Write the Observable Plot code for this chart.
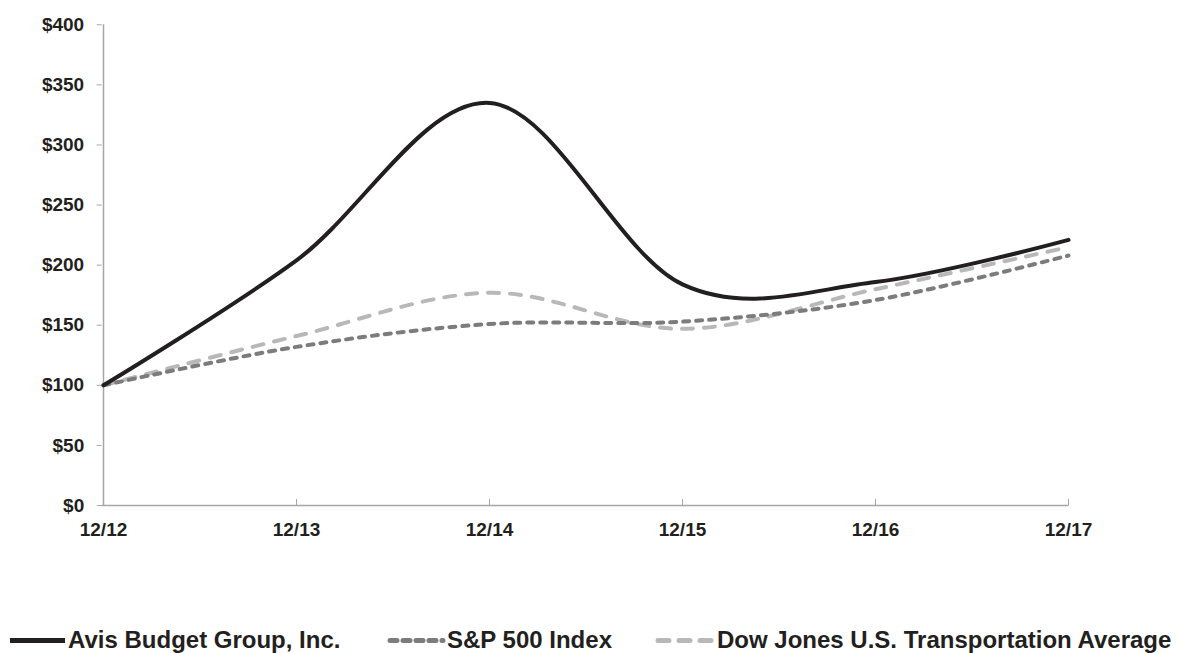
<!DOCTYPE html>
<html>
<head>
<meta charset="utf-8">
<script src="https://cdn.jsdelivr.net/npm/d3@7"></script>
<script src="https://cdn.jsdelivr.net/npm/@observablehq/plot@0.6"></script>
<style>
  html, body { margin: 0; padding: 0; background: #fff; }
  #chart svg { display: block; }
</style>
</head>
<body>
<div id="chart"></div>
<script>
// ---- data ----
const categories = ["12/12", "12/13", "12/14", "12/15", "12/16", "12/17"];
const avisValues = [100, 204, 335, 184, 186, 221];
const sp500Values = [100, 132, 151, 153, 171, 208];
const djtaValues = [100, 141, 177, 147, 180, 215];
const seriesNames = ["Avis Budget Group, Inc.", "S&P 500 Index", "Dow Jones U.S. Transportation Average"];
const yTicks = [0, 50, 100, 150, 200, 250, 300, 350, 400];

// ---- styles ----
const FONT = "'Liberation Sans', Arial, Helvetica, sans-serif";
const TEXT = "#231f20";
const AXIS = "#a6a6a6";
const styles = [
  { stroke: "#231f20", dash: null, width: 4 },
  { stroke: "#7c7c7d", dash: "6,7", width: 4 },
  { stroke: "#b8b8b9", dash: "11,11", width: 4 }
];

const allSeries = [avisValues, sp500Values, djtaValues];
const rows = [];
allSeries.forEach((vals, s) => vals.forEach((v, i) => rows.push({ series: seriesNames[s], date: categories[i], value: v })));

const lineMark = (s) => Plot.line(rows.filter(r => r.series === seriesNames[s]), {
  x: "date", y: "value",
  stroke: styles[s].stroke, strokeWidth: styles[s].width,
  strokeDasharray: styles[s].dash, strokeLinecap: "round", strokeLinejoin: "round",
  curve: "cardinal"
});

const chart = Plot.plot({
  width: 1177,
  height: 600,
  marginLeft: 101.7,
  marginRight: 108.5,
  marginTop: 24.3,
  marginBottom: 95,
  style: { fontFamily: FONT, fontSize: "19px", fontWeight: "bold", color: TEXT, background: "#fff" },
  x: { type: "point", domain: categories, padding: 0, axis: null },
  y: { domain: [0, 400], axis: null },
  marks: [
    Plot.ruleY([0], { stroke: AXIS, strokeWidth: 1.5 }),
    Plot.ruleX([categories[0]], { stroke: AXIS, strokeWidth: 1.5 }),
    Plot.axisY({ ticks: yTicks, tickSize: 5, tickPadding: 13, stroke: AXIS, tickFormat: d => "$" + d, fill: TEXT, fontSize: 19, fontWeight: "bold", label: null }),
    Plot.axisX({ tickSize: 6, dy: -6, stroke: AXIS, tickFormat: () => "", label: null }),
    Plot.axisX({ tickSize: 0, tickPadding: 17, fill: TEXT, fontSize: 19, fontWeight: "bold", label: null }),
    lineMark(2),
    lineMark(1),
    lineMark(0)
  ]
});
document.getElementById("chart").appendChild(chart);

// ---- legend below the chart ----
const legendItems = [
  { x1: 10, x2: 65, tx: 68 },
  { x1: 390, x2: 443, tx: 447 },
  { x1: 658, x2: 715, tx: 717 }
];
const legend = d3.create("svg").attr("width", 1177).attr("height", 53)
  .style("display", "block").style("font-family", FONT);
legendItems.forEach((it, s) => {
  legend.append("line")
    .attr("x1", it.x1).attr("x2", it.x2).attr("y1", 40.5).attr("y2", 40.5)
    .attr("stroke", styles[s].stroke).attr("stroke-width", 5)
    .attr("stroke-dasharray", s === 0 ? null : (s === 1 ? "7,6" : "11,10"))
    .attr("stroke-linecap", s === 0 ? "butt" : "round");
  legend.append("text")
    .attr("x", it.tx).attr("y", 47.5)
    .attr("fill", TEXT).attr("font-size", 24).attr("font-weight", "bold")
    .text(seriesNames[s]);
});
document.getElementById("chart").appendChild(legend.node());
</script>
</body>
</html>
